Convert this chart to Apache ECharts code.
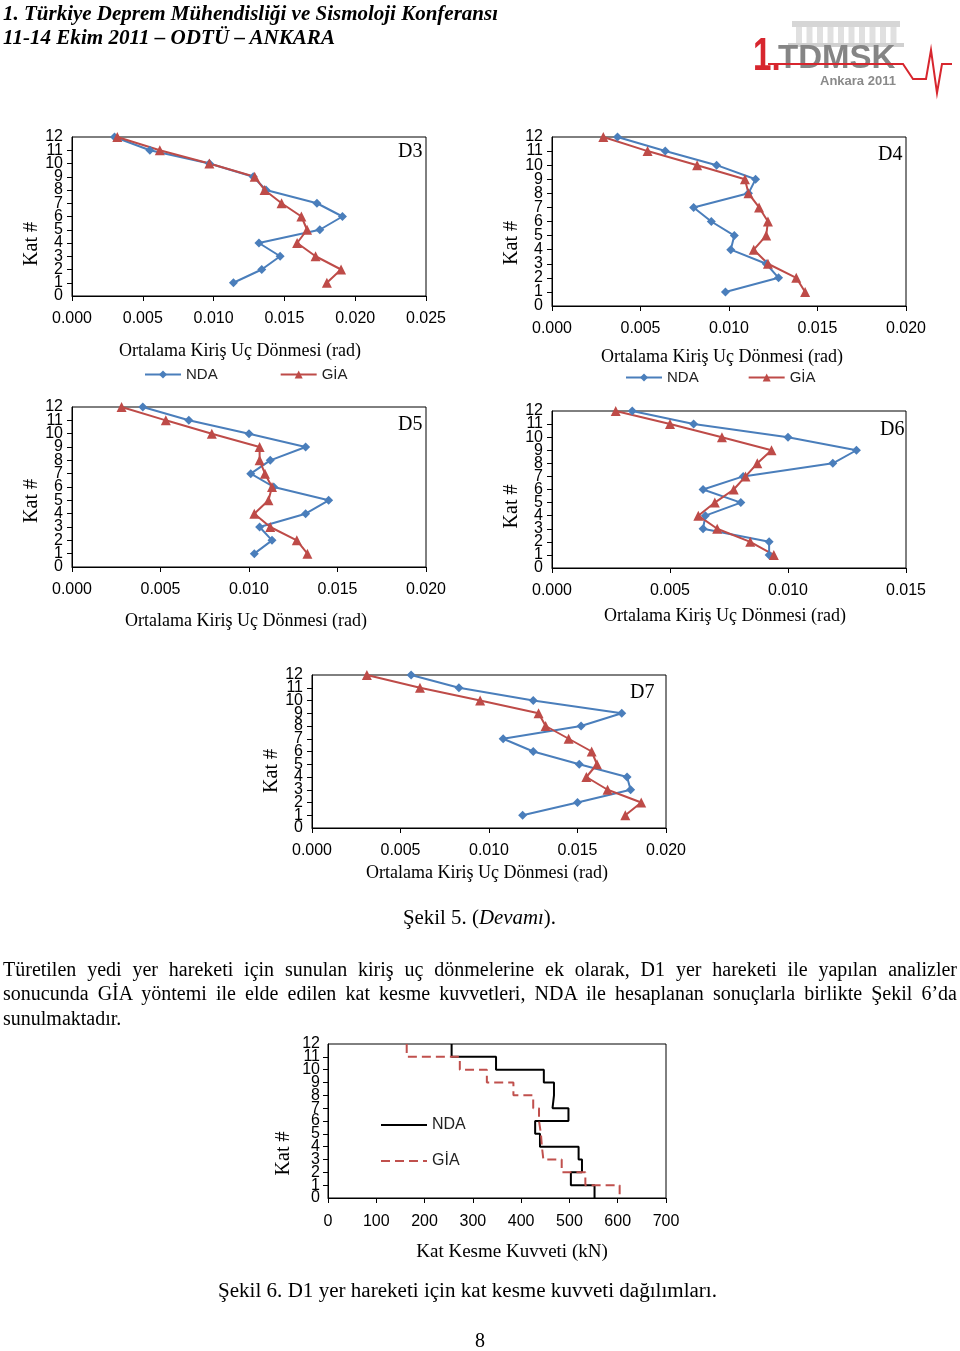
<!DOCTYPE html>
<html><head><meta charset="utf-8">
<script src="https://cdn.jsdelivr.net/npm/echarts@6/dist/echarts.min.js"></script>
<style>
html,body{margin:0;padding:0;background:#fff;}
#c{position:absolute;left:0;top:0;width:960px;height:1351px;}
.t{position:absolute;font-family:'Liberation Serif','Times New Roman',serif;color:#000;white-space:pre;line-height:20px;font-size:20px;z-index:2;}
</style></head><body>
<div id="c"></div>
<span class="t" id="h1" style="left:3px;top:3px;font-weight:bold;font-style:italic;">1. Türkiye Deprem Mühendisliği ve Sismoloji Konferansı</span>
<span class="t" id="h2" style="left:3px;top:27px;font-weight:bold;font-style:italic;">11-14 Ekim 2011 – ODTÜ – ANKARA</span>
<span class="t" id="cap5" style="left:403px;top:907px;">Şekil 5. (<i>Devamı</i>).</span>
<span class="t" id="p1" style="left:3px;top:959px;">Türetilen yedi yer hareketi için sunulan kiriş uç dönmelerine ek olarak, D1 yer hareketi ile yapılan analizler</span>
<span class="t" id="p2" style="left:3px;top:983px;">sonucunda GİA yöntemi ile elde edilen kat kesme kuvvetleri, NDA ile hesaplanan sonuçlarla birlikte Şekil 6’da</span>
<span class="t" id="p3" style="left:3px;top:1008px;">sunulmaktadır.</span>
<span class="t" id="cap6" style="left:218px;top:1280px;">Şekil 6. D1 yer hareketi için kat kesme kuvveti dağılımları.</span>
<span class="t" id="pg" style="left:475px;top:1330px;">8</span>
<script>
// ---------- data ----------
const floors = [12,11,10,9,8,7,6,5,4,3,2,1];
const d3NDA = [0.0030,0.0055,0.0097,0.0128,0.0137,0.0173,0.0191,0.0175,0.0132,0.0147,0.0134,0.0114];
const d3GIA = [0.0032,0.0062,0.0097,0.0129,0.0136,0.0148,0.0162,0.0166,0.0159,0.0172,0.0190,0.0180];
const d4NDA = [0.0037,0.0064,0.0093,0.0115,0.0111,0.0080,0.0090,0.0103,0.0101,0.0121,0.0128,0.0098];
const d4GIA = [0.0029,0.0054,0.0082,0.0109,0.0111,0.0117,0.0122,0.0121,0.0114,0.0122,0.0138,0.0143];
const d5NDA = [0.0040,0.0066,0.0100,0.0132,0.0112,0.0101,0.0114,0.0145,0.0132,0.0106,0.0113,0.0103];
const d5GIA = [0.0028,0.0053,0.0079,0.0106,0.0106,0.0109,0.0113,0.0111,0.0103,0.0112,0.0127,0.0133];
const d6NDA = [0.0034,0.0060,0.0100,0.0129,0.0119,0.0081,0.0064,0.0080,0.0065,0.0064,0.0092,0.0092];
const d6GIA = [0.0027,0.0050,0.0072,0.0093,0.0087,0.0082,0.0077,0.0069,0.0062,0.0070,0.0084,0.0094];
const d7NDA = [0.0056,0.0083,0.0125,0.0175,0.0152,0.0108,0.0125,0.0151,0.0178,0.0180,0.0150,0.0119];
const d7GIA = [0.0031,0.0061,0.0095,0.0128,0.0132,0.0145,0.0158,0.0161,0.0155,0.0167,0.0186,0.0177];
const stories = [12,11,10,9,8,7,6,5,4,3,2,1];
const shearNDA = [256,348,447,468,465,498,429,439,519,526,503,552];
const shearGIA = [163,273,329,384,425,437,441,443,446,484,533,604];
const rotMax = [0.025,0.020,0.020,0.015,0.020];
const chartLabels = ['D3','D4','D5','D6','D7'];
const seriesNames = ['NDA','GİA'];

// ---------- text fitting ----------
function fit(id, target, justify){
  const el = document.getElementById(id);
  const w = el.getBoundingClientRect().width;
  if(justify && w < target){
    const n = (el.textContent.match(/ /g)||[]).length;
    el.style.wordSpacing = ((target-w)/n)+'px';
  } else {
    el.style.transformOrigin = 'left center';
    el.style.transform = 'scaleX('+(target/w)+')';
  }
}
fit('h1',495); fit('h2',332); fit('cap5',153);
fit('p1',954,true); fit('p2',954,true); fit('cap6',499);

// ---------- chart ----------
const BLUE = '#4A7EBB', RED = '#BE4B48';
const layout = [
  {left:72, top:137, width:354, height:159, xGap:46, xPad:[0,18,0,0], yPad:[0,55,0,0], lab:[398,152]},
  {left:552, top:137, width:354, height:169, xGap:42, xPad:[0,14,0,0], yPad:[0,43,0,0], lab:[878,155]},
  {left:72, top:407, width:354, height:160, xGap:45, xPad:[0,6,0,0], yPad:[0,28,0,0], lab:[398,425]},
  {left:552, top:411, width:354, height:157, xGap:39, xPad:[0,8,0,0], yPad:[0,34,0,0], lab:[880,430]},
  {left:312, top:675, width:354, height:153, xGap:36, xPad:[0,4,0,0], yPad:[0,39,0,0], lab:[630,693]},
  {left:328, top:1044, width:338, height:154, xGap:45, xPad:[0,0,0,30], yPad:[0,65,0,0]}
];
const rotData = [[d3NDA,d3GIA],[d4NDA,d4GIA],[d5NDA,d5GIA],[d6NDA,d6GIA],[d7NDA,d7GIA]];

const axisLineStyle = {lineStyle:{color:'#000',width:1}};
const tickFont = {fontFamily:'Liberation Sans',fontSize:16,color:'#000'};
const grid = [], xAxis = [], yAxis = [], series = [], graphic = [];

layout.forEach((L,i)=>{
  grid.push({left:L.left, top:L.top, width:L.width, height:L.height, show:true, borderColor:'#000', borderWidth:1, containLabel:false});
  const isShear = i===5;
  const ym = isShear?8:9;
  xAxis.push({
    type:'value', gridIndex:i, min:0, max: isShear?700:rotMax[i], interval: isShear?100:0.005,
    splitLine:{show:false}, axisLine:axisLineStyle,
    axisTick:{show:true,length:5,lineStyle:{color:'#000'}},
    axisLabel:Object.assign({margin:isShear?16:15, showMinLabel:true, showMaxLabel:true,
      formatter: v=> isShear? String(v) : v.toFixed(3)}, tickFont),
    name: isShear ? 'Kat Kesme Kuvveti (kN)' : 'Ortalama Kiriş Uç Dönmesi (rad)',
    nameLocation:'middle', nameGap:L.xGap,
    nameTextStyle:{fontFamily:'Liberation Serif',fontSize:isShear?19:18,color:'#000',padding:L.xPad}
  });
  // main y axis: floors 1..11 labelled (ends shown by the companion axis)
  yAxis.push({
    type:'value', gridIndex:i, position:'left', min:0, max:12, interval:1,
    splitLine:{show:false}, axisLine:axisLineStyle,
    axisTick:{show:true,length:5,lineStyle:{color:'#000'}},
    axisLabel:Object.assign({margin:ym, showMinLabel:false, showMaxLabel:false}, tickFont),
    name:'Kat #', nameLocation:'middle', nameRotate:90, nameGap:isShear?34:25,
    nameTextStyle:{fontFamily:'Liberation Serif',fontSize:20,color:'#000',padding:L.yPad}
  });
  // companion axis for the end labels 0 and 12
  yAxis.push({
    type:'value', gridIndex:i, position:'left', min:0, max:12, interval:12,
    splitLine:{show:false}, axisLine:{show:false}, axisTick:{show:false},
    axisLabel:Object.assign({margin:ym, showMinLabel:true, showMaxLabel:true}, tickFont)
  });
  const yi = 2*i;
  if(!isShear){
    const [nda,gia] = rotData[i];
    series.push({
      name:seriesNames[0], type:'line', xAxisIndex:i, yAxisIndex:yi, clip:false,
      data: floors.map((f,k)=>[nda[k],f]),
      symbol:'diamond', symbolSize:9, showAllSymbol:true,
      lineStyle:{color:BLUE,width:2}, itemStyle:{color:BLUE}
    });
    series.push({
      name:seriesNames[1], type:'line', xAxisIndex:i, yAxisIndex:yi, clip:false,
      data: floors.map((f,k)=>[gia[k],f]),
      symbol:'triangle', symbolSize:10, showAllSymbol:true,
      lineStyle:{color:RED,width:2}, itemStyle:{color:RED}
    });
    graphic.push({type:'text', style:{text:chartLabels[i], x:L.lab[0], y:L.lab[1], verticalAlign:'middle',
      font:'20px "Liberation Serif"', fill:'#000'}});
  } else {
    const step = vals => {
      const pts = [];
      stories.forEach((s,k)=>{ pts.push([vals[k], s]); pts.push([vals[k], s-1]); });
      return pts;
    };
    series.push({
      name:'NDA-V', type:'line', xAxisIndex:i, yAxisIndex:yi, clip:false, symbol:'none',
      data: step(shearNDA), lineStyle:{color:'#000',width:2}, itemStyle:{color:'#000'}
    });
    series.push({
      name:'GİA-V', type:'line', xAxisIndex:i, yAxisIndex:yi, clip:false, symbol:'none',
      data: step(shearGIA), lineStyle:{color:'#C0504D',width:2,type:[9,5]}, itemStyle:{color:'#C0504D'}
    });
  }
});

// logo (decorative)
const logo = [];
logo.push({type:'rect', shape:{x:792,y:21,width:108,height:6}, style:{fill:'#d6d6d6'}});
for(let c=0;c<10;c++) logo.push({type:'rect', shape:{x:796+c*10.5,y:27,width:6,height:17}, style:{fill:'#e0e0e0'}});
logo.push({type:'rect', shape:{x:788,y:43,width:116,height:4}, style:{fill:'#d0d0d0'}});
logo.push({type:'text', scaleX:0.72, originX:753, style:{text:'1.', x:753, y:57, verticalAlign:'middle', font:'bold 46px "Liberation Sans"', fill:'#d7262e'}});
logo.push({type:'text', scaleX:1.0, originX:778, style:{text:'TDMSK', x:778, y:59, verticalAlign:'middle', font:'bold 33px "Liberation Sans"', fill:'#858585'}});
logo.push({type:'polyline', shape:{points:[[768,64],[903,64],[913,79],[926,79],[931,50],[937,93],[942,64],[952,64]]}, style:{stroke:'#d7262e',lineWidth:2,fill:null}});
logo.push({type:'text', style:{text:'Ankara 2011', x:820, y:81, verticalAlign:'middle', font:'bold 13px "Liberation Sans"', fill:'#8a8a8a'}});
graphic.push(...logo);

const legendText = {fontFamily:'Liberation Sans',fontSize:15,color:'#222'};
const option = {
  animation:false,
  backgroundColor:'#fff',
  grid, xAxis, yAxis, series, graphic,
  legend:[
    {data:seriesNames, left:144, top:367, orient:'horizontal', itemWidth:36, itemHeight:10, itemGap:62, padding:0, selectedMode:false, textStyle:legendText},
    {data:seriesNames, left:625, top:370, orient:'horizontal', itemWidth:36, itemHeight:10, itemGap:49, padding:0, selectedMode:false, textStyle:legendText},
    {data:['NDA-V','GİA-V'], left:380, top:1117, orient:'vertical', itemWidth:46, itemHeight:14, itemGap:20, padding:0, selectedMode:false,
      itemStyle:{opacity:0}, formatter:n=>n.replace('-V',''), textStyle:Object.assign({}, legendText, {fontSize:16})}
  ]
};
const chart = echarts.init(document.getElementById('c'), null, {renderer:'canvas'});
chart.setOption(option);
</script>
</body></html>
